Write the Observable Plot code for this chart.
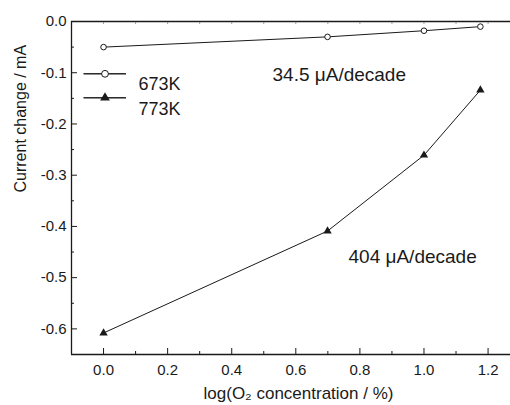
<!DOCTYPE html>
<html><head><meta charset="utf-8">
<script src="https://cdn.jsdelivr.net/npm/d3@7"></script>
<script src="https://cdn.jsdelivr.net/npm/@observablehq/plot@0.6"></script>
<style>
html,body{margin:0;padding:0;background:#fff;}
#chart svg{display:block;}
</style></head><body><div id="chart"></div>
<script>
// data
const concentrationLog = [0, 0.699, 1.0, 1.176];
const current673K = [-0.050, -0.030, -0.018, -0.010];
const current773K = [-0.608, -0.409, -0.261, -0.134];
const seriesNames = ["673K", "773K"];
const annotations = ["34.5 \u03bcA/decade", "404 \u03bcA/decade"];
const xLabel = "log(O\u2082 concentration / %)";
const yLabel = "Current change / mA";
// ticks
const xMajorTicks = [0, 0.2, 0.4, 0.6, 0.8, 1.0, 1.2];
const xMinorTicks = [0.1, 0.3, 0.5, 0.7, 0.9, 1.1];
const xTopTicks = [0, 0.1, 0.2, 0.3, 0.4, 0.5, 0.6, 0.7, 0.8, 0.9, 1.0, 1.1, 1.2];
const yMajorTicks = [0, -0.1, -0.2, -0.3, -0.4, -0.5, -0.6];
const yMinorTicks = [-0.05, -0.15, -0.25, -0.35, -0.45, -0.55];
const xDomain = [-0.1, 1.27];
const yDomain = [-0.65, 0];

const d673 = concentrationLog.map((x, i) => ({x, y: current673K[i]}));
const d773 = concentrationLog.map((x, i) => ({x, y: current773K[i]}));

const ink = "#1a1a1a";
const fmt = d => d.toFixed(1);
const blank = () => "";

function legendSegment(name, dy) {
  return Plot.vector([name], {frameAnchor: "top-left", dx: 33.5, dy, length: 42, rotate: 90, anchor: "middle",
    shape: "spike", r: 0.01, fill: ink, stroke: ink, strokeWidth: 1});
}

const chart = Plot.plot({
  width: 510,
  height: 405,
  marginLeft: 71,
  marginRight: 0,
  marginTop: 21,
  marginBottom: 51,
  x: {domain: xDomain},
  y: {domain: yDomain},
  style: {fontFamily: "'Liberation Sans', Arial, sans-serif", color: ink, background: "white"},
  marks: [
    // axis lines
    Plot.ruleY([yDomain[1]], {stroke: ink, strokeWidth: 1.3}),
    Plot.ruleY([yDomain[0]], {stroke: ink, strokeWidth: 1.3}),
    Plot.ruleX([xDomain[0]], {stroke: ink, strokeWidth: 1.3}),
    // axes
    Plot.axisX(xMajorTicks, {anchor: "bottom", tickSize: -6, tickPadding: 16, tickFormat: fmt, fontSize: 15, label: null, stroke: ink}),
    Plot.axisX(xMinorTicks, {anchor: "bottom", tickSize: -3, tickFormat: blank, label: null, stroke: ink}),
    Plot.axisX(xTopTicks, {anchor: "top", tickSize: -2, tickFormat: blank, label: null, stroke: "#999"}),
    Plot.axisY(yMajorTicks, {anchor: "left", tickSize: -6, tickPadding: 11, tickFormat: fmt, fontSize: 15, label: null, stroke: ink}),
    Plot.axisY(yMinorTicks, {anchor: "left", tickSize: -3, tickFormat: blank, label: null, stroke: ink}),
    // series
    Plot.line(d673, {x: "x", y: "y", stroke: ink, strokeWidth: 1}),
    Plot.dot(d673, {x: "x", y: "y", r: 2.8, fill: "white", stroke: ink, strokeWidth: 1}),
    Plot.line(d773, {x: "x", y: "y", stroke: ink, strokeWidth: 1}),
    Plot.dot(d773, {x: "x", y: "y", r: 3.1, symbol: "triangle", fill: ink, stroke: "none"}),
    // legend
    legendSegment(seriesNames[0], 52.3),
    Plot.dot([seriesNames[0]], {frameAnchor: "top-left", dx: 33.5, dy: 52.3, r: 3.4, fill: "white", stroke: ink, strokeWidth: 1}),
    Plot.text([seriesNames[0]], {text: d => d, frameAnchor: "top-left", dx: 67, dy: 56, textAnchor: "start", fontSize: 18, fill: ink}),
    legendSegment(seriesNames[1], 76.3),
    Plot.dot([seriesNames[1]], {frameAnchor: "top-left", dx: 33.5, dy: 76.3, r: 3.6, symbol: "triangle", fill: ink, stroke: "none"}),
    Plot.text([seriesNames[1]], {text: d => d, frameAnchor: "top-left", dx: 67, dy: 81, textAnchor: "start", fontSize: 18, fill: ink}),
    // annotations
    Plot.text([annotations[0]], {text: d => d, frameAnchor: "top-left", dx: 201, dy: 45.5, textAnchor: "start", fontSize: 19, fill: ink}),
    Plot.text([annotations[1]], {text: d => d, frameAnchor: "top-left", dx: 277, dy: 228, textAnchor: "start", fontSize: 19, fill: ink}),
    // axis labels
    Plot.text([xLabel], {text: d => d, frameAnchor: "bottom", dx: 7.5, dy: 44, fontSize: 17, fill: ink}),
    Plot.text([yLabel], {text: d => d, frameAnchor: "left", dx: -51, dy: 4.5, rotate: -90, fontSize: 16, fill: ink})
  ]
});
document.getElementById("chart").appendChild(chart);
</script>
</body></html>
